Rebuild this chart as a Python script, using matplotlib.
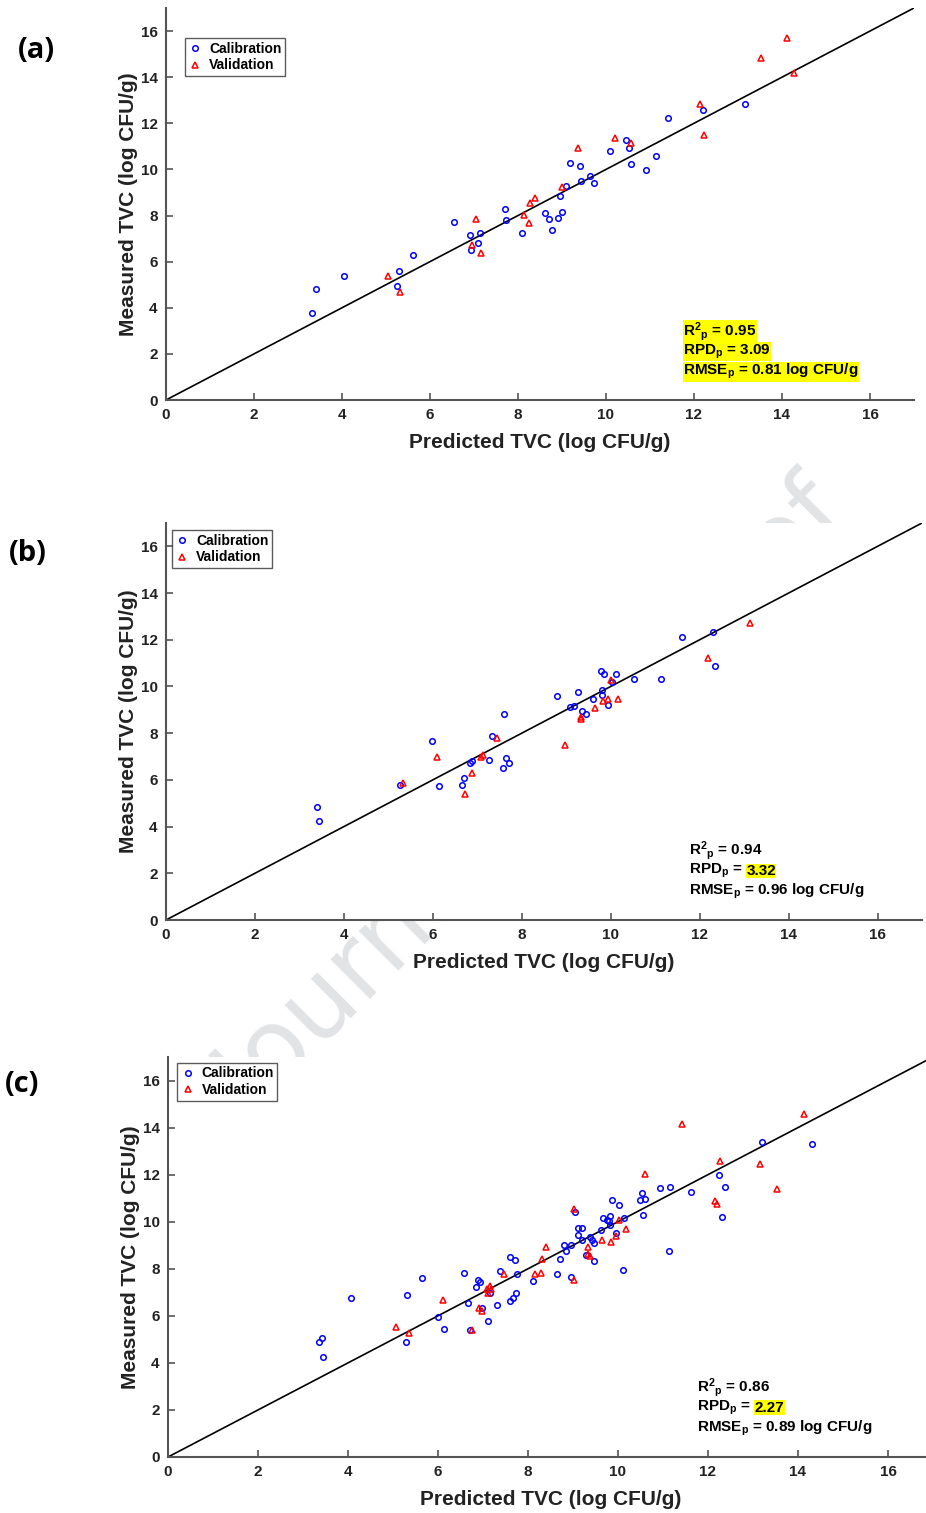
import matplotlib
matplotlib.use("Agg")
import matplotlib.pyplot as plt

plt.rcParams['font.family'] = ['Liberation Sans', 'DejaVu Sans']
plt.rcParams['font.weight'] = 'bold'
plt.rcParams['mathtext.fontset'] = 'custom'
plt.rcParams['mathtext.rm'] = 'Liberation Sans:bold'
plt.rcParams['mathtext.it'] = 'Liberation Sans:bold'
plt.rcParams['mathtext.bf'] = 'Liberation Sans:bold'
plt.rcParams['mathtext.sf'] = 'Liberation Sans:bold'
plt.rcParams['mathtext.default'] = 'rm'

# ---- data (predicted, measured) ----
# panel (a)
cal_a_x = [3.32, 3.42, 4.04, 5.25, 5.29, 5.61, 6.55, 6.91, 6.94, 7.08, 7.13, 7.70, 7.73, 8.08, 8.62,
           8.70, 8.77, 8.92, 8.95, 9.01, 9.08, 9.19, 9.40, 9.44, 9.64, 9.73, 10.09, 10.46, 10.52, 10.57,
           10.91, 11.13, 11.40, 12.21, 13.17]
cal_a_y = [3.76, 4.80, 5.36, 4.96, 5.58, 6.30, 7.72, 7.16, 6.50, 6.81, 7.23, 8.28, 7.82, 7.26, 8.11,
           7.86, 7.36, 7.88, 8.83, 8.14, 9.29, 10.26, 10.16, 9.51, 9.71, 9.42, 10.78, 11.26, 10.91, 10.23,
           9.99, 10.58, 12.23, 12.56, 12.84]
val_a_x = [5.04, 5.32, 6.95, 7.05, 7.15, 8.13, 8.25, 8.28, 8.38, 9.00, 9.36, 10.20, 10.57, 12.13,
           12.23, 13.52, 14.11, 14.27]
val_a_y = [5.38, 4.68, 6.71, 7.85, 6.36, 8.01, 7.69, 8.56, 8.74, 9.22, 10.94, 11.36, 11.13, 12.82,
           11.49, 14.81, 15.68, 14.18]

# panel (b)
cal_b_x = [3.40, 3.43, 5.26, 5.99, 6.13, 6.66, 6.69, 6.83, 6.88, 7.27, 7.34, 7.57, 7.59, 7.64, 7.72,
           8.80, 9.09, 9.18, 9.27, 9.36, 9.44, 9.60, 9.78, 9.80, 9.80, 9.85, 9.94, 10.02, 10.11, 10.53,
           11.12, 11.60, 12.29, 12.35]
cal_b_y = [4.82, 4.25, 5.79, 7.68, 5.75, 5.78, 6.07, 6.74, 6.81, 6.84, 7.87, 6.52, 8.83, 6.94, 6.72,
           9.60, 9.11, 9.16, 9.77, 8.96, 8.80, 9.46, 10.67, 9.64, 9.83, 10.52, 9.21, 10.19, 10.54, 10.31,
           10.33, 12.10, 12.35, 10.89]
val_b_x = [5.33, 6.09, 6.73, 6.89, 7.09, 7.13, 7.45, 8.98, 9.33, 9.33, 9.64, 9.82, 9.94, 10.00,
           10.17, 12.19, 13.13]
val_b_y = [5.87, 6.98, 5.41, 6.28, 6.97, 7.07, 7.78, 7.48, 8.70, 8.61, 9.06, 9.39, 9.47, 10.29,
           9.47, 11.24, 12.72]

# panel (c)
cal_c_x = [3.35, 3.42, 3.45, 4.07, 5.28, 5.31, 5.64, 6.01, 6.14, 6.57, 6.67, 6.70, 6.85, 6.89, 6.94,
           6.97, 7.11, 7.16, 7.30, 7.37, 7.60, 7.71, 7.76, 7.59, 7.66, 7.74, 8.12, 8.64, 8.72, 8.80,
           8.84, 8.95, 8.96, 9.04, 9.10, 9.11, 9.21, 9.20, 9.28, 9.38, 9.42, 9.46, 9.47, 9.62, 9.67,
           9.75, 9.79, 9.82, 9.82, 9.87, 9.96, 10.03, 10.11, 10.13, 10.48, 10.54, 10.59, 10.55, 10.94,
           11.16, 11.13, 11.62, 12.24, 12.37, 12.32, 13.19, 14.30]
cal_c_y = [4.87, 5.07, 4.27, 6.75, 4.87, 6.90, 7.60, 5.93, 5.42, 7.84, 6.54, 5.39, 7.23, 7.51, 7.43,
           6.34, 5.77, 6.99, 6.48, 7.89, 8.52, 8.38, 7.77, 6.65, 6.75, 6.95, 7.47, 7.77, 8.43, 9.03,
           8.74, 9.01, 7.65, 10.41, 9.42, 9.73, 9.72, 9.24, 8.57, 9.33, 9.22, 9.11, 8.31, 9.65, 10.14,
           10.09, 10.03, 10.26, 9.85, 10.91, 9.52, 10.73, 7.94, 10.17, 10.91, 11.23, 10.96, 10.28, 11.42,
           11.46, 8.77, 11.25, 12.00, 11.47, 10.19, 13.37, 13.31]
val_c_x = [5.06, 5.35, 6.11, 6.75, 6.92, 6.98, 7.08, 7.12, 7.16, 7.18, 7.47, 8.16, 8.28, 8.31, 8.40,
           9.02, 9.02, 9.33, 9.34, 9.38, 9.65, 9.84, 9.96, 10.02, 10.18, 10.59, 11.43, 12.15, 12.20,
           12.26, 13.15, 13.53, 14.13]
val_c_y = [5.53, 5.29, 6.69, 5.39, 6.32, 6.21, 7.14, 6.95, 7.27, 7.14, 7.78, 7.78, 7.84, 8.40, 8.93,
           7.54, 10.54, 8.91, 8.64, 8.53, 9.21, 9.13, 9.38, 10.09, 9.69, 12.04, 14.15, 10.87, 10.77,
           12.58, 12.44, 11.38, 14.59]

panel_labels = ["(a)", "(b)", "(c)"]
r2_vals = ["0.95", "0.94", "0.86"]
rpd_vals = ["3.09", "3.32", "2.27"]
rmse_vals = ["0.81", "0.96", "0.89"]
ticks = [0, 2, 4, 6, 8, 10, 12, 14, 16]

W, H = 926, 1513
fig = plt.figure(figsize=(W / 100, H / 100), dpi=100)

# faint watermark behind the axes
fig.text(0.577, 0.471, "Journal Pre-proof", rotation=45, fontsize=73, color="#e2e3e5",
         family="DejaVu Sans", weight="normal", ha="center", va="center", zorder=-5)

# axes rectangles in pixels: left, top, bottom, right
boxes = [(166, 8, 400, 914), (166, 523, 920, 922), (168, 1057, 1457, 933)]
legend_anchor = [(0.025, 0.923), (0.008, 0.982), (0.012, 0.985)]
label_pos = [(36, 50), (28, 553), (22, 1085)]
# which stats lines get a yellow box: 'all' or 'rpd'
hilite = ["all", "rpd", "rpd"]

data = [(cal_a_x, cal_a_y, val_a_x, val_a_y),
        (cal_b_x, cal_b_y, val_b_x, val_b_y),
        (cal_c_x, cal_c_y, val_c_x, val_c_y)]

for i, (left, top, bottom, right) in enumerate(boxes):
    ax = fig.add_axes([left / W, 1 - bottom / H, (right - left) / W, (bottom - top) / H])
    cx, cy, vx, vy = data[i]
    ax.plot([0, 17], [0, 17], color="black", lw=1.2, zorder=1)
    ax.plot(cx, cy, "o", mfc="none", mec="#0000ff", ms=4, mew=1.1, label="Calibration", zorder=3)
    ax.plot(vx, vy, "^", mfc="none", mec="#ff0000", ms=4, mew=1.1, label="Validation", zorder=3)
    ax.set_xlim(0, 17)
    ax.set_ylim(0, 17)
    ax.set_xticks(ticks)
    ax.set_yticks(ticks)
    for s in ["top", "right"]:
        ax.spines[s].set_visible(False)
    for s in ["left", "bottom"]:
        ax.spines[s].set_color("#555555")
        ax.spines[s].set_linewidth(1.5)
    ax.tick_params(direction="in", length=5, width=1.2, color="#555555", labelsize=11,
                   labelcolor="#222222", pad=6)
    for lab in ax.get_xticklabels() + ax.get_yticklabels():
        lab.set_fontweight("bold")
    ax.set_xlabel("Predicted TVC (log CFU/g)", fontsize=15, fontweight="bold", color="#222222", labelpad=8)
    ax.set_ylabel("Measured TVC (log CFU/g)", fontsize=15, fontweight="bold", color="#222222", labelpad=2)

    leg = ax.legend(loc="upper left", bbox_to_anchor=legend_anchor[i], borderaxespad=0,
                    fontsize=10, frameon=True, fancybox=False, handlelength=1.0,
                    handletextpad=0.5, borderpad=0.25, labelspacing=0.2, edgecolor="#333333")
    leg.get_frame().set_linewidth(1.0)
    for t in leg.get_texts():
        t.set_fontweight("bold")

    # stats block
    tx = 11.75
    ys = [2.97, 2.1, 1.23]
    yb = dict(facecolor="#ffff00", edgecolor="none", pad=0.2)
    all_hl = hilite[i] == "all"
    ax.text(tx, ys[0], r"R$^2{}_p$ = " + r2_vals[i], fontsize=11, fontweight="bold",
            va="center", bbox=yb if all_hl else None)
    if all_hl:
        ax.text(tx, ys[1], r"RPD$_p$ = " + rpd_vals[i], fontsize=11, fontweight="bold",
                va="center", bbox=yb)
    else:
        t1 = ax.text(tx, ys[1], r"RPD$_p$ =", fontsize=11, fontweight="bold", va="center")
        ax.annotate(rpd_vals[i], xy=(1, 0.5), xycoords=t1, xytext=(3, 0),
                    textcoords="offset points", va="center", ha="left",
                    fontsize=11, fontweight="bold", bbox=yb)
    ax.text(tx, ys[2], r"RMSE$_p$ = " + rmse_vals[i] + " log CFU/g", fontsize=11,
            fontweight="bold", va="center", bbox=yb if all_hl else None)

    px, py = label_pos[i]
    fig.text(px / W, 1 - py / H, panel_labels[i], fontsize=21, fontweight="bold",
             family=["Open Sans", "DejaVu Sans"], ha="center", va="center")

fig.savefig("out.png", dpi=100, facecolor="white")
